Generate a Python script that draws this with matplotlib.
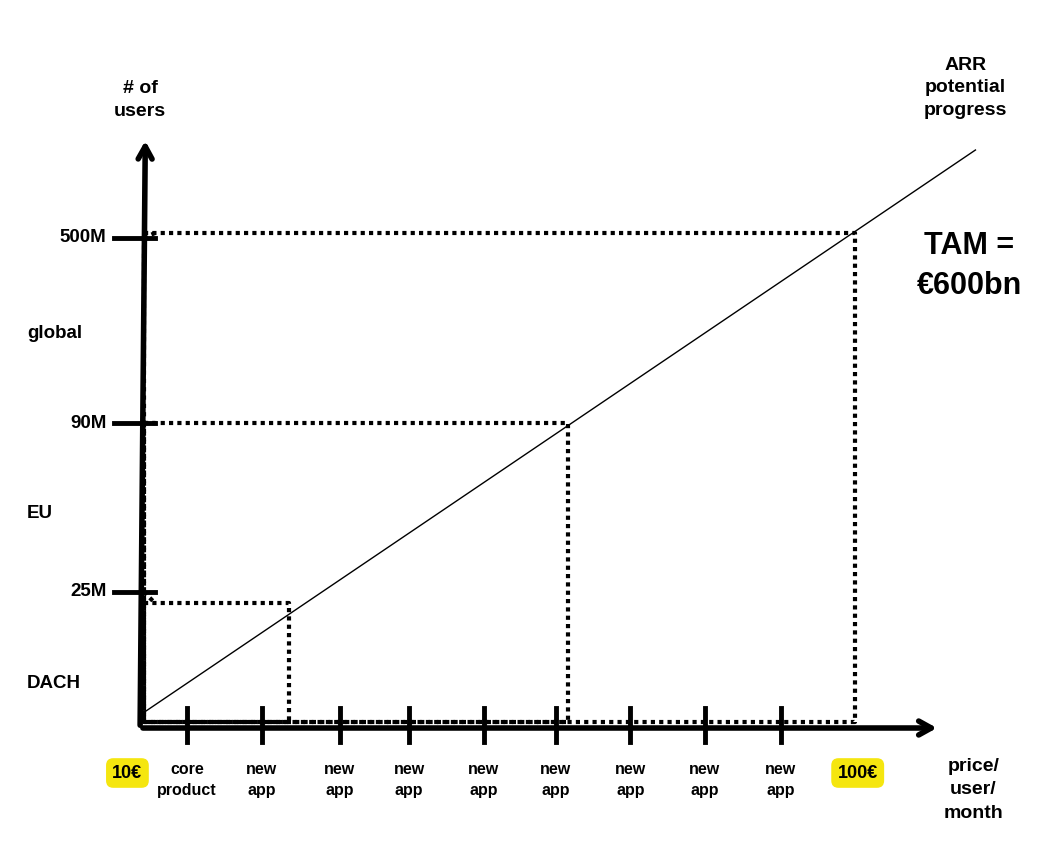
import matplotlib.pyplot as plt

plt.rcParams['font.family'] = ['Liberation Sans', 'DejaVu Sans']

# price steps (x units) and user levels (y units, arbitrary scale)
tick_x = [1, 2, 3.05, 3.98, 4.98, 5.95, 6.95, 7.95, 8.97]
tick_labels = ["core\nproduct"] + ["new\napp"] * 8
origin_x = 0.37
user_levels = [136, 305, 490]
user_labels = ["25M", "90M", "500M"]
region_y = [45, 215, 395]
region_labels = ["DACH", "EU", "global"]
box_right = [2.37, 6.11, 9.97]
box_top = [125, 305, 495]
line_x = [0.37, 11.58]
line_y = [13, 578]

fig = plt.figure(figsize=(10.44, 8.48), dpi=100)
ax = fig.add_axes([0, 0, 1, 1])
ax.set_xlim(-1.51, 12.5)
ax.set_ylim(-120, 728)
ax.axis('off')

# axes arrows
ax.annotate("", xy=(origin_x + 0.07, 590), xytext=(origin_x, 0),
            arrowprops=dict(arrowstyle="->,head_width=0.5,head_length=0.9", lw=4, color='black'))
ax.annotate("", xy=(11.1, 0), xytext=(origin_x, 0),
            arrowprops=dict(arrowstyle="->,head_width=0.5,head_length=0.9", lw=4, color='black'))

# x ticks
for x, lab in zip(tick_x, tick_labels):
    ax.plot([x, x], [-14, 20], color='black', lw=3.5)
    ax.text(x, -34, lab, ha='center', va='top', fontsize=11.5, fontweight='bold', linespacing=1.5)

# y ticks and labels
for y, lab in zip(user_levels, user_labels):
    ax.plot([origin_x - 0.35, origin_x + 0.2], [y, y], color='black', lw=3.5)
    ax.text(origin_x - 0.45, y, lab, ha='right', va='center', fontsize=13.5, fontweight='bold')
for y, lab in zip(region_y, region_labels):
    ax.text(-1.15, y, lab, ha='left', va='center', fontsize=13.5, fontweight='bold')

# dotted boxes
for r, t, yl in zip(box_right, box_top, user_levels):
    ax.plot([origin_x + 0.05, r, r, origin_x + 0.05, origin_x + 0.05],
            [t, t, 6, 6, t], color='black', lw=3, linestyle=(0, (1, 1)))
    ax.plot([origin_x + 0.05, origin_x + 0.2], [yl, t], color='black', lw=3, linestyle=(0, (1, 1)))

# ARR line
ax.plot(line_x, line_y, color='black', lw=1)

ax.text(origin_x, 628, "# of\nusers", ha='center', va='center', fontsize=14, fontweight='bold', linespacing=1.4)
ax.text(11.45, 640, "ARR\npotential\nprogress", ha='center', va='center', fontsize=14,
        fontweight='bold', linespacing=1.4)
ax.text(11.5, 462, "TAM =\n€600bn", ha='center', va='center', fontsize=22,
        fontweight='bold', linespacing=1.4)
ax.text(11.55, -62, "price/\nuser/\nmonth", ha='center', va='center', fontsize=14,
        fontweight='bold', linespacing=1.5)

ybox = dict(boxstyle="round,pad=0.35,rounding_size=0.4", fc='#f5e60f', ec='none')
ax.text(0.2, -45, "10€", ha='center', va='center', fontsize=13, fontweight='bold', bbox=ybox)
ax.text(10.0, -45, "100€", ha='center', va='center', fontsize=13, fontweight='bold', bbox=ybox)

fig.savefig("out.png", dpi=100)
